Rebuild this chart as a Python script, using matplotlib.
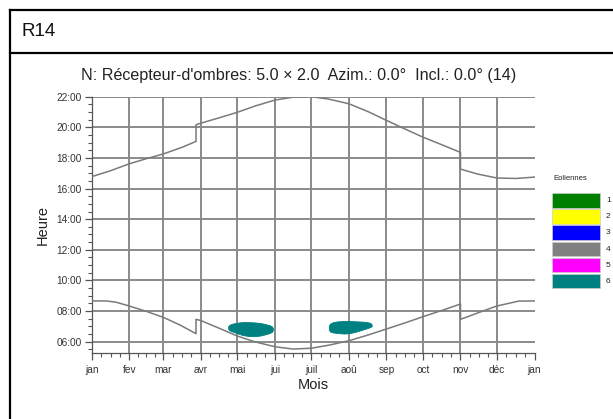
import numpy as np
import matplotlib
matplotlib.use("Agg")
import matplotlib.pyplot as plt
from matplotlib.lines import Line2D
from matplotlib.patches import Rectangle

plt.rcParams['font.family'] = ['Liberation Sans', 'DejaVu Sans']

# Month starts (day of year) and their labels
month_days = [0, 31, 59, 90, 120, 151, 181, 212, 243, 273, 304, 334, 365]
month_labels = ["jan", "fev", "mar", "avr", "mai", "jui", "juil", "aoû",
                "sep", "oct", "nov", "déc", "jan"]

hour_ticks = [6, 8, 10, 12, 14, 16, 18, 20, 22]
hour_labels = ["06:00", "08:00", "10:00", "12:00", "14:00", "16:00",
               "18:00", "20:00", "22:00"]

# Sunset (local time, hours) through the year, with summer-time shifts
sunset_days = [0, 15, 31, 45, 59, 74, 86, 86, 90, 105, 120, 135, 151, 165,
               175, 181, 195, 212, 228, 243, 258, 273, 289, 304, 304, 318,
               334, 350, 365]
sunset_hours = [16.78, 17.15, 17.62, 17.95, 18.26, 18.68, 19.08, 20.17, 20.27,
                20.62, 20.98, 21.40, 21.78, 21.96, 22.0, 22.0, 21.85, 21.54,
                21.02, 20.45, 19.90, 19.36, 18.85, 18.36, 17.27, 16.95,
                16.69, 16.66, 16.75]

# Sunrise (local time, hours)
sunrise_days = [0, 12, 20, 31, 45, 59, 73, 86, 86, 90, 105, 120, 135, 151,
                166, 181, 196, 212, 228, 243, 258, 273, 289, 304, 304, 319,
                334, 352, 365]
sunrise_hours = [8.66, 8.66, 8.58, 8.33, 7.98, 7.59, 7.08, 6.52, 7.46, 7.38,
                 6.88, 6.37, 5.98, 5.67, 5.52, 5.57, 5.78, 6.06, 6.44, 6.83,
                 7.22, 7.63, 8.05, 8.46, 7.46, 7.90, 8.33, 8.65, 8.66]

# Shadow periods: day, shadow start/end (hours)
shadow1_days = [112.5, 113.5, 116, 120, 124, 129, 134, 139, 143, 146.5, 148.5, 149.3]
shadow1_top = [7.00, 7.10, 7.18, 7.24, 7.28, 7.28, 7.26, 7.22, 7.15, 7.08, 7.00, 6.90]
shadow1_bot = [6.84, 6.74, 6.66, 6.55, 6.44, 6.37, 6.36, 6.40, 6.48, 6.56, 6.64, 6.74]

shadow2_days = [195.5, 196.5, 199, 203, 208, 213, 218, 223, 227, 229.8, 230.8]
shadow2_top = [7.05, 7.18, 7.28, 7.33, 7.35, 7.35, 7.33, 7.31, 7.28, 7.22, 7.12]
shadow2_bot = [6.78, 6.66, 6.60, 6.56, 6.53, 6.56, 6.66, 6.78, 6.88, 6.96, 7.02]

legend_title = "Eoliennes"
legend_labels = ["1", "2", "3", "4", "5", "6"]
legend_colors = ["#008000", "#ffff00", "#0000ff", "#808080", "#ff00ff", "#008080"]

W, H = 613, 419
fig = plt.figure(figsize=(W / 100, H / 100), dpi=100)
fig.patch.set_facecolor("white")


def fx(px):
    return px / W


def fy(py):
    return 1 - py / H


# Frame of the report box
fig.add_artist(Line2D([fx(10), fx(10)], [fy(10), fy(419)], color="black", lw=1.6))
fig.add_artist(Line2D([fx(10), fx(613)], [fy(10), fy(10)], color="black", lw=1.6))
fig.add_artist(Line2D([fx(10), fx(613)], [fy(53.5), fy(53.5)], color="black", lw=1.6))
fig.text(fx(22), fy(31), "R14", fontsize=13.5, ha="left", va="center", color="#111111")

ax = fig.add_axes([fx(91.7), fy(352.7), fx(534.5 - 91.7), (352.7 - 96.7) / H])
ax.set_xlim(0, 365)
ax.set_ylim(5.28, 22)

# Grid lines
grid_kw = dict(color="#8a8a8a", lw=1.4, zorder=1)
for d in month_days[1:-1]:
    ax.axvline(d, **grid_kw)
for h in hour_ticks:
    ax.axhline(h, **grid_kw)

ax.plot(sunset_days, sunset_hours, color="#7a7a7a", lw=1.1, zorder=3)
ax.plot(sunrise_days, sunrise_hours, color="#7a7a7a", lw=1.1, zorder=3)

ax.fill_between(shadow1_days, shadow1_bot, shadow1_top, color="#008080",
                lw=0.6, edgecolor="#008080", zorder=4)
ax.fill_between(shadow2_days, shadow2_bot, shadow2_top, color="#008080",
                lw=0.6, edgecolor="#008080", zorder=4)

for s in ["top", "right"]:
    ax.spines[s].set_visible(False)
for s in ["left", "bottom"]:
    ax.spines[s].set_color("#555555")
    ax.spines[s].set_linewidth(0.9)

ax.set_xticks(month_days)
ax.set_xticklabels(month_labels)
minor_x = [a + (b - a) * k / 4 for a, b in zip(month_days[:-1], month_days[1:])
           for k in (1, 2, 3)]
ax.set_xticks(minor_x, minor=True)
ax.set_yticks(hour_ticks)
ax.set_yticklabels(hour_labels)
ax.set_yticks(np.arange(5.5, 22, 0.5), minor=True)

ax.tick_params(axis="both", which="major", length=5, width=0.9,
               color="#555555", labelsize=7.3, labelcolor="#333333")
ax.tick_params(axis="x", which="major", pad=4)
ax.tick_params(axis="y", which="major", pad=2)
ax.tick_params(axis="both", which="minor", length=3, width=0.8, color="#555555")

ax.set_xlabel("Mois", fontsize=10.5, color="#222222", labelpad=2)
ax.set_ylabel("Heure", fontsize=10.5, color="#222222", labelpad=5)

fig.text(fx(299), fy(75), "N: Récepteur-d'ombres: 5.0 × 2.0  Azim.: 0.0°  Incl.: 0.0° (14)",
         fontsize=11.6, ha="center", va="center", color="#222222")

# Legend of turbines
fig.text(fx(553), fy(178), legend_title, fontsize=5.5, ha="left", va="center",
         color="#222222")
for i, (lab, col) in enumerate(zip(legend_labels, legend_colors)):
    top = 193.3 + i * 16.08
    fig.add_artist(Rectangle((fx(552), fy(top + 14.5)), fx(47.5), 14.5 / H,
                             facecolor=col, edgecolor="#cccccc", lw=0.5,
                             transform=fig.transFigure))
    fig.text(fx(606), fy(top + 7.5), lab, fontsize=6, ha="left", va="center",
             color="#222222")

fig.savefig("out.png", dpi=100)
